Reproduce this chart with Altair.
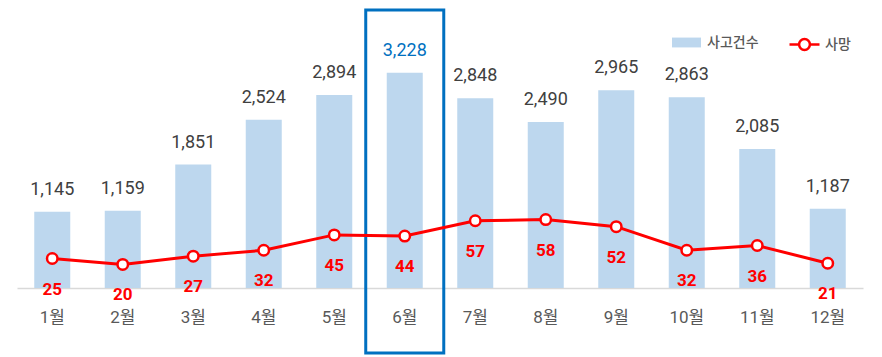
import altair as alt
import pandas as pd

months = ["1월", "2월", "3월", "4월", "5월", "6월", "7월", "8월", "9월", "10월", "11월", "12월"]
accidents = [1145, 1159, 1851, 2524, 2894, 3228, 2848, 2490, 2965, 2863, 2085, 1187]
deaths = [25, 20, 27, 32, 45, 44, 57, 58, 52, 32, 36, 21]
highlight = "6월"

df = pd.DataFrame({
    "month": months,
    "acc": accidents,
    "dead": deaths,
    "acc_label": [f"{v:,}" for v in accidents],
    "s1": ["사고건수"] * 12,
    "s2": ["사망"] * 12,
})

FONT = "Roboto, 'Noto Sans CJK KR', sans-serif"
W, H = 846, 278

x = alt.X("month:N", sort=months, title=None,
          scale=alt.Scale(paddingInner=0.49, paddingOuter=0.245),
          axis=alt.Axis(labelAngle=0, ticks=False, domainColor="#d9d9d9", domainWidth=1.5,
                        labelFont=FONT, labelFontSize=17, labelColor="#595959",
                        labelPadding=21, grid=False))

ybar = alt.Y("acc:Q", scale=alt.Scale(domain=[0, 4170], nice=False), axis=None)
yline = alt.Y("dead:Q", scale=alt.Scale(domain=[0, 235.6], nice=False), axis=None)

base = alt.Chart(df)

bars = base.mark_bar(size=36).encode(
    x=x, y=ybar,
    fill=alt.Fill("s1:N", scale=alt.Scale(domain=["사고건수"], range=["#bdd7ee"]),
                  legend=alt.Legend(title=None, orient="none", legendX=655, legendY=18,
                                    symbolType="M-1,-0.34H1V0.34H-1Z", symbolSize=841,
                                    symbolStrokeWidth=0,
                                    labelFont=FONT, labelFontSize=14, labelColor="#595959",
                                    labelFontWeight=500, labelOffset=6)),
)

bar_text = base.mark_text(baseline="bottom", dy=-13, font=FONT, fontSize=18).encode(
    x=x, y=ybar, text="acc_label:N",
    color=alt.condition(alt.datum.month == highlight, alt.value("#0070c0"), alt.value("#404040")),
)

box = base.transform_filter(alt.datum.month == highlight).mark_bar(
    width=alt.RelativeBandSize(2.17), fill=None, fillOpacity=0, stroke="#0070c0", strokeWidth=3,
    clip=False,
).encode(x=x, y=alt.value(0), y2=alt.value(343))

line = base.mark_line(strokeWidth=3).encode(
    x=x, y=yline,
    stroke=alt.Stroke("s2:N", scale=alt.Scale(domain=["사망"], range=["#ff0000"]),
                      legend=alt.Legend(title=None, orient="none", legendX=771, legendY=18,
                                        symbolType="M-1,0H-0.36M0.36,0H1M0.36,0A0.36,0.36,0,1,1,-0.36,0A0.36,0.36,0,1,1,0.36,0",
                                        symbolSize=900, symbolStrokeWidth=2.5,
                                        symbolFillColor="white", symbolStrokeColor="#ff0000",
                                        labelFont=FONT, labelFontSize=14, labelColor="#595959",
                                        labelFontWeight=500, labelOffset=4)),
)

points = base.mark_point(filled=True, fill="white", stroke="#ff0000", strokeWidth=2.5,
                         size=110, opacity=1).encode(x=x, y=yline)

line_text = base.mark_text(baseline="top", dy=23, font=FONT, fontSize=17,
                           fontWeight="bold", color="#ff0000").encode(
    x=x, y=yline, text="dead:Q")

left = alt.layer(bars, bar_text, box)
right = alt.layer(line, points, line_text)

chart = alt.layer(left, right).resolve_scale(y="independent").properties(
    width=W, height=H,
    autosize=alt.AutoSizeParams(type="none"),
    padding={"left": 9, "top": 2, "right": 10, "bottom": 70},
).configure_view(stroke=None)

chart.save("out.html", embed_options={"renderer": "svg", "actions": False})
